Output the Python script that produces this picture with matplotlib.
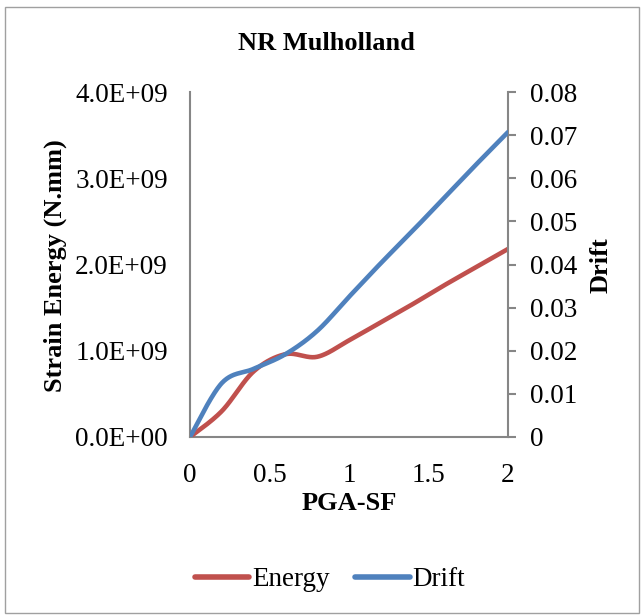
import numpy as np
import matplotlib
matplotlib.use("Agg")
import matplotlib.pyplot as plt
from matplotlib.lines import Line2D
from matplotlib.patches import Rectangle

# PGA scale factor and response values
pga = [0.0, 0.2, 0.4, 0.6, 0.8, 1.0, 1.2, 1.4, 1.6, 1.8, 2.0]
energy = [0.0, 0.30e9, 0.76e9, 0.96e9, 0.93e9, 1.12e9, 1.33e9, 1.54e9, 1.76e9, 1.97e9, 2.18e9]
drift = [0.0, 0.0125, 0.0158, 0.0192, 0.0246, 0.0325, 0.0403, 0.0478, 0.0555, 0.0632, 0.0707]

left_ticks = [0.0, 1.0e9, 2.0e9, 3.0e9, 4.0e9]
right_ticks = [0, 0.01, 0.02, 0.03, 0.04, 0.05, 0.06, 0.07, 0.08]
x_ticks = [0, 0.5, 1, 1.5, 2]

RED = "#C0504D"
BLUE = "#4F81BD"
GREY = "#868686"
SERIF = ["Liberation Serif", "DejaVu Serif"]


def smooth(xs, ys, n=40):
    """Cubic Bezier smoothing through every point (spreadsheet-style)."""
    p = np.column_stack([xs, ys]).astype(float)
    m = len(p)
    out = []
    for i in range(m - 1):
        p0 = p[max(i - 1, 0)]
        p1 = p[i]
        p2 = p[i + 1]
        p3 = p[min(i + 2, m - 1)]
        c1 = p1 + (p2 - p0) / 6.0
        c2 = p2 - (p3 - p1) / 6.0
        t = np.linspace(0, 1, n)[:, None]
        seg = ((1 - t) ** 3) * p1 + 3 * ((1 - t) ** 2) * t * c1 + 3 * (1 - t) * t ** 2 * c2 + t ** 3 * p2
        out.append(seg if i == 0 else seg[1:])
    seg = np.vstack(out)
    return seg[:, 0], seg[:, 1]


plt.rcParams["font.family"] = SERIF

W, H = 643, 615
fig = plt.figure(figsize=(W / 100, H / 100), dpi=100)

# chart border
fig.patches.append(Rectangle((5 / W, 1 - 613 / H), (639 - 5) / W, (613 - 7) / H,
                             transform=fig.transFigure, fill=False,
                             edgecolor="#A0A0A0", linewidth=1.0))

x0, x1 = 190, 508
y0, y1 = 437, 92
ax = fig.add_axes([x0 / W, 1 - y0 / H, (x1 - x0) / W, (y0 - y1) / H])
ax2 = ax.twinx()

ex, ey = smooth(pga, energy)
dx, dy = smooth(pga, drift)
ax.plot(ex, ey, color=RED, linewidth=3.3, solid_capstyle="round", zorder=3)
ax2.plot(dx, dy, color=BLUE, linewidth=3.3, solid_capstyle="round", zorder=3)

ax.set_xlim(0, 2)
ax.set_ylim(0, 4.0e9)
ax2.set_ylim(0, 0.08)

ax.set_xticks(x_ticks)
ax.set_xticklabels([("%g" % v) for v in x_ticks])
ax.set_yticks(left_ticks)
ax.set_yticklabels(["%.1E" % v for v in left_ticks])
ax2.set_yticks(right_ticks)
ax2.set_yticklabels(["0" if v == 0 else "%.2f" % v for v in right_ticks])

for a in (ax, ax2):
    for s in a.spines.values():
        s.set_visible(False)
ax.spines["left"].set_visible(True)
ax.spines["bottom"].set_visible(True)
ax2.spines["right"].set_visible(True)
for s in (ax.spines["left"], ax.spines["bottom"], ax2.spines["right"]):
    s.set_color(GREY)
    s.set_linewidth(1.5)

TICK_FS = 19.5
ax.tick_params(axis="x", length=0, pad=19, labelsize=TICK_FS)
ax.tick_params(axis="y", length=0, pad=16, labelsize=TICK_FS)
ax2.tick_params(axis="y", length=6, width=1.5, color=GREY, pad=10, labelsize=TICK_FS)

LAB_FS = 19
fig.text(326 / W, 1 - 44 / H, "NR Mulholland", ha="center", va="center",
         fontsize=LAB_FS, fontweight="bold")
fig.text(349 / W, 1 - 503 / H, "PGA-SF", ha="center", va="center",
         fontsize=LAB_FS, fontweight="bold")
fig.text(55 / W, 1 - 266 / H, "Strain Energy (N.mm)", ha="center", va="center",
         rotation=90, fontsize=LAB_FS, fontweight="bold")
fig.text(601 / W, 1 - 265 / H, "Drift", ha="center", va="center",
         rotation=90, fontsize=LAB_FS, fontweight="bold")

handles = [Line2D([], [], color=RED, linewidth=4, solid_capstyle="round"),
           Line2D([], [], color=BLUE, linewidth=4, solid_capstyle="round")]
fig.legend(handles, ["Energy", "Drift"], loc="center", bbox_to_anchor=(330 / W, 1 - 580 / H),
           ncol=2, frameon=False, fontsize=TICK_FS, handlelength=2.0, handletextpad=0.1,
           columnspacing=0.95)

fig.savefig("out.png", dpi=100)
